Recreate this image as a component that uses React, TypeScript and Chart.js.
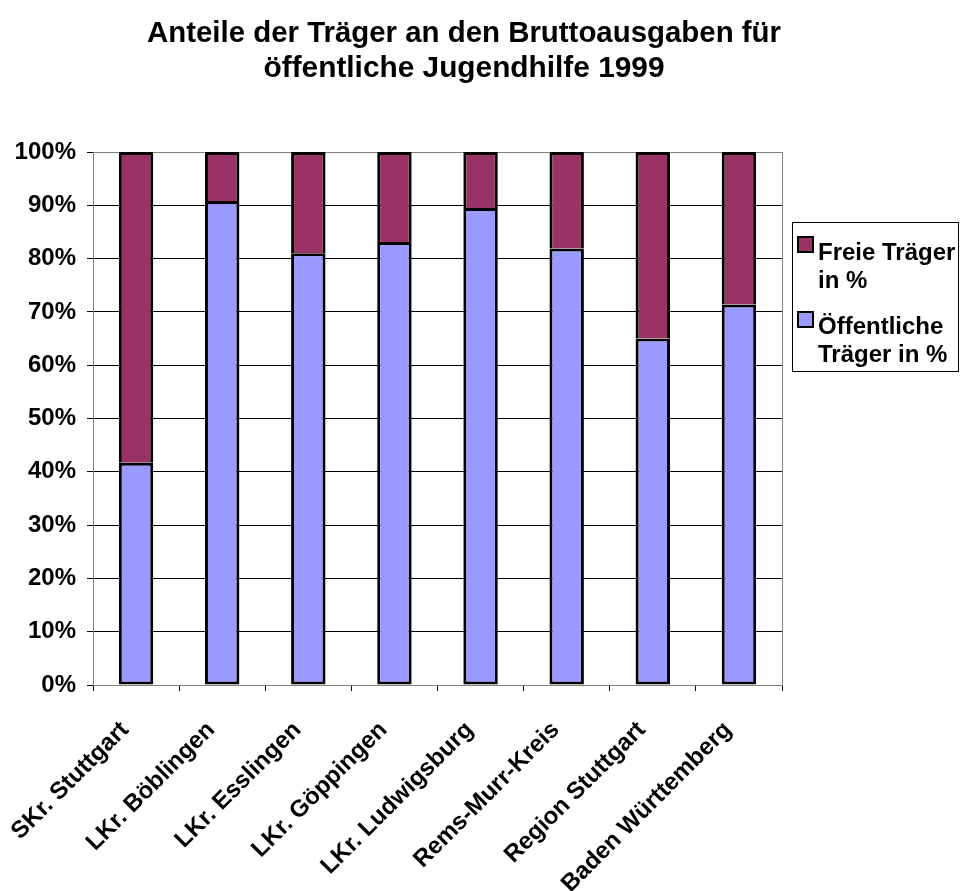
import React, { useEffect, useRef } from 'react';
import { Chart, registerables } from 'chart.js';

Chart.register(...registerables);

const categories = [
  'SKr. Stuttgart',
  'LKr. Böblingen',
  'LKr. Esslingen',
  'LKr. Göppingen',
  'LKr. Ludwigsburg',
  'Rems-Murr-Kreis',
  'Region Stuttgart',
  'Baden Württemberg',
];
const oeffentliche = [41.7, 90.8, 81.0, 83.1, 89.5, 81.9, 65.0, 71.4];
const freie = [58.3, 9.2, 19.0, 16.9, 10.5, 18.1, 35.0, 28.6];
const titleLines = ['Anteile der Träger an den Bruttoausgaben für', 'öffentliche Jugendhilfe 1999'];
const legendFreie = ['Freie Träger', 'in %'];
const legendOeff = ['Öffentliche', 'Träger in %'];

const FONT = '"Liberation Sans", Arial, Helvetica, sans-serif';

const decorPlugin = {
  id: 'decor',
  afterDraw(chart: any) {
    const ctx = chart.ctx as CanvasRenderingContext2D;
    const a = chart.chartArea;
    ctx.save();
    // right frame of plot area
    ctx.strokeStyle = '#808080';
    ctx.lineWidth = 1;
    ctx.beginPath();
    ctx.moveTo(Math.round(a.right) + 0.5, a.top);
    ctx.lineTo(Math.round(a.right) + 0.5, a.bottom);
    ctx.stroke();

    // title
    ctx.fillStyle = '#000';
    ctx.font = `bold 30px ${FONT}`;
    ctx.textAlign = 'center';
    ctx.textBaseline = 'alphabetic';
    ctx.fillText(titleLines[0], 464, 42, 634);
    ctx.fillText(titleLines[1], 464, 77, 401);

    // legend
    const ds = chart.data.datasets;
    ctx.strokeStyle = '#000';
    ctx.lineWidth = 1;
    ctx.strokeRect(792.5, 222.5, 166, 149);
    const items = [
      { color: ds[1].backgroundColor, lines: legendFreie, sqY: 237, base: 260 },
      { color: ds[0].backgroundColor, lines: legendOeff, sqY: 312, base: 334 },
    ];
    ctx.font = `bold 24px ${FONT}`;
    ctx.textAlign = 'left';
    for (const it of items) {
      ctx.fillStyle = it.color;
      ctx.fillRect(798, it.sqY, 15, 15);
      ctx.lineWidth = 2;
      ctx.strokeStyle = '#000';
      ctx.strokeRect(798, it.sqY, 15, 15);
      ctx.fillStyle = '#000';
      it.lines.forEach((t, i) => ctx.fillText(t, 818, it.base + i * 28));
    }
    ctx.restore();
  },
};

export default function App() {
  const ref = useRef<HTMLCanvasElement>(null);
  useEffect(() => {
    if (!ref.current) return;
    const chart = new Chart(ref.current, {
      type: 'bar',
      data: {
        labels: categories,
        datasets: [
          {
            label: 'Öffentliche Träger in %',
            data: oeffentliche,
            backgroundColor: '#9999FF',
            borderColor: '#000',
            borderWidth: 3,
            borderSkipped: false,
            barPercentage: 0.4,
            categoryPercentage: 1,
          },
          {
            label: 'Freie Träger in %',
            data: freie,
            backgroundColor: '#993366',
            borderColor: '#000',
            borderWidth: 3,
            borderSkipped: 'start',
            barPercentage: 0.4,
            categoryPercentage: 1,
          },
        ],
      },
      options: {
        responsive: false,
        animation: false,
        layout: { padding: { top: 152, right: 178, left: 0, bottom: 0 } },
        plugins: {
          legend: { display: false },
          title: { display: false },
          tooltip: { enabled: false },
        },
        scales: {
          x: {
            stacked: true,
            grid: {
              drawOnChartArea: false,
              drawTicks: true,
              tickLength: 6,
              tickColor: '#000',
              offset: true,
            },
            border: { color: '#808080', width: 1 },
            ticks: {
              color: '#000',
              font: { family: FONT, size: 24, weight: 'bold' },
              maxRotation: 45,
              minRotation: 45,
              autoSkip: false,
              padding: 25,
              labelOffset: -11,
            },
            afterFit: (s: any) => {
              s.height = 206;
              s.paddingLeft = 0;
              s.paddingRight = 0;
            },
          },
          y: {
            stacked: true,
            min: 0,
            max: 100,
            grid: {
              color: (c: any) => (c.tick && c.tick.value === 100 ? '#808080' : '#000'),
              tickColor: '#000',
              tickLength: 6,
              lineWidth: 1,
            },
            border: { color: '#808080', width: 1 },
            ticks: {
              stepSize: 10,
              color: '#000',
              font: { family: FONT, size: 24, weight: 'bold' },
              padding: 11,
              callback: (v: any) => `${v}%`,
            },
            afterFit: (s: any) => {
              s.width = 93;
              s.paddingTop = 0;
              s.paddingBottom = 0;
            },
          },
        },
      },
      plugins: [decorPlugin],
    });
    return () => chart.destroy();
  }, []);
  return (
    <div style={{ position: 'fixed', left: 0, top: 0, width: 960, height: 891, background: '#fff' }}>
      <canvas ref={ref} width={960} height={891} style={{ width: 960, height: 891, display: 'block' }} />
    </div>
  );
}
